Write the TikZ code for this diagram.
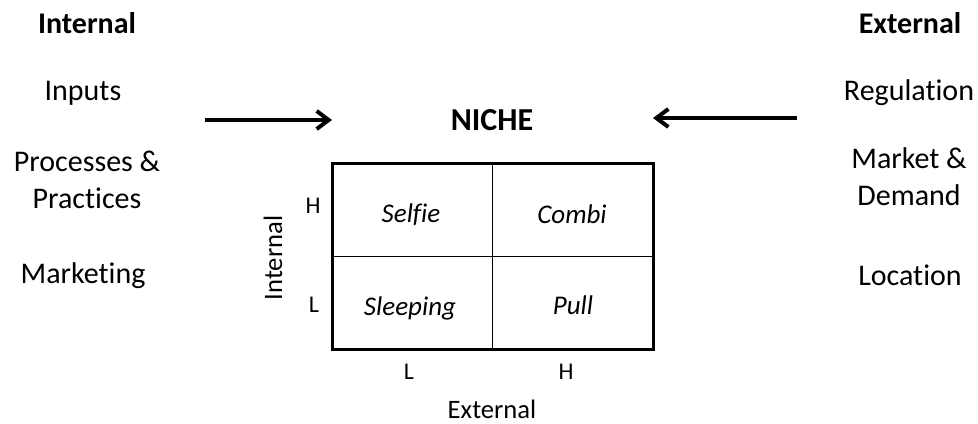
\documentclass[tikz,border=0pt]{standalone}
\usepackage{fontspec}
\setmainfont{Carlito}[Ligatures=NoCommon]
\usetikzlibrary{arrows.meta}
\begin{document}
\begin{tikzpicture}[x=0.5pt, y=-0.5pt,
  hdr/.style={font=\fontsize{15}{18.5}\selectfont\bfseries, anchor=base, inner sep=0pt},
  item/.style={font=\fontsize{15}{18.5}\selectfont, align=center, anchor=base, inner sep=0pt},
  cell/.style={font=\fontsize{13.5}{16}\selectfont\itshape, anchor=base, inner sep=0pt},
  lvl/.style={font=\fontsize{12}{14}\selectfont, anchor=base, inner sep=0pt},
  axis/.style={font=\fontsize{13.3}{16}\selectfont, anchor=base, inner sep=0pt},
  push/.style={-{Straight Barb[length=6pt, width=9pt]}, line width=2pt}]

\useasboundingbox (0,0) rectangle (978,423);

% internal side
\node[hdr] (intT) at (87,33) {Internal};
\node[item] (inp) at (83,100) {Inputs};
\node[item] (proc) at (87,208) {Processes \&\\Practices};
\node[item] (mkt) at (83,283) {Marketing};

% external side
\node[hdr] (extT) at (910,33) {External};
\node[item] (reg) at (909,100) {Regulation};
\node[item] (mdem) at (909,205) {Market \&\\Demand};
\node[item] (loc) at (910,285) {Location};

\node[hdr, font=\fontsize{16}{19}\selectfont\bfseries] (niche) at (492,130) {NICHE};

\coordinate (a1) at (205,120);
\coordinate (a2) at (332,120);
\coordinate (b1) at (797,118);
\coordinate (b2) at (653,118);
\draw[push] (a1) -- (a2);
\draw[push] (b1) -- (b2);

% the matrix
\coordinate (nw) at (332,163);
\coordinate (se) at (653,349);
\coordinate (mid) at (492,256);
\draw[line width=0.5pt] (nw -| mid) -- (se -| mid);
\draw[line width=0.5pt] (nw |- mid) -- (se |- mid);
\draw[line width=1.5pt] (nw) rectangle (se);

\node[cell] (selfie) at (411,222) {Selfie};
\node[cell] (combi) at (572,223) {Combi};
\node[cell] (sleep) at (410,315) {Sleeping};
\node[cell] (pull) at (573,314) {Pull};

\node[lvl] (iH) at (313,213) {H};
\node[lvl] (iL) at (314,312) {L};
\node[lvl] (eL) at (409,379) {L};
\node[lvl] (eH) at (566,379) {H};

\node[axis, rotate=90] (intA) at (282,258) {Internal};
\node[axis] (extA) at (492,418) {External};

\end{tikzpicture}
\end{document}
